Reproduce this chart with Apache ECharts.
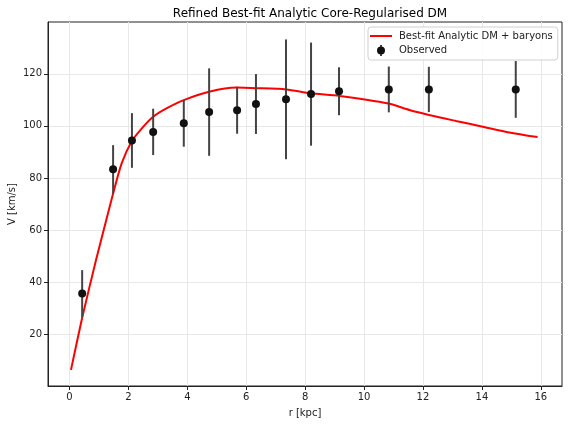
<!DOCTYPE html>
<html>
<head>
<meta charset="utf-8">
<script src="https://cdn.jsdelivr.net/npm/echarts@6/dist/echarts.min.js"></script>
<style>
    html, body { margin: 0; padding: 0; background: #fff; }
    #chart { width: 568px; height: 424px; }
</style>
</head>
<body>
<div id="chart"></div>
<script>
// fitted curve
const rFit = [0.05, 0.43, 0.9, 1.15, 1.48, 1.77, 2.12, 2.5, 2.84, 3.29, 3.88, 4.74, 5.67, 6.35, 7.36, 8.18, 9.17, 10.83, 11.54, 12.2, 13.12, 14.03, 14.93, 15.89];
const vFit = [6.3, 26.3, 48.5, 59.5, 74, 85.6, 94.2, 99.6, 103.5, 106.7, 109.9, 113.1, 114.7, 114.5, 114.0, 112.5, 111.5, 108.6, 106.1, 104.2, 101.9, 99.7, 97.5, 95.7];

// observed rotation curve
const rObs = [0.43, 1.48, 2.12, 2.84, 3.88, 4.74, 5.69, 6.33, 7.35, 8.2, 9.15, 10.84, 12.2, 15.15];
const vObs = [35.6, 83.3, 94.4, 97.7, 101.0, 105.3, 106.0, 108.4, 110.2, 112.2, 113.3, 114.0, 114.0, 114.0];
const eObs = [9.0, 9.3, 10.5, 8.9, 9.0, 16.8, 9.0, 11.5, 23.0, 19.8, 9.2, 8.8, 8.7, 10.9];

const xTicks = [0, 2, 4, 6, 8, 10, 12, 14, 16];
const yTicks = [20, 40, 60, 80, 100, 120];

const fitName = 'Best-fit Analytic DM + baryons';
const obsName = 'Observed';

const chart = echarts.init(document.getElementById('chart'));

const axisText = {fontSize: 10, color: '#222', fontFamily: 'DejaVu Sans'};
const gridLine = {show: true, lineStyle: {color: '#e8e8e8', width: 1}};

chart.setOption({
    animation: false,
    textStyle: {fontFamily: 'DejaVu Sans'},
    title: {
        text: 'Refined Best-fit Analytic Core-Regularised DM',
        left: 305,
        top: 3,
        textAlign: 'center',
        textStyle: {fontSize: 12, fontWeight: 'normal', color: '#000', fontFamily: 'DejaVu Sans'}
    },
    grid: {
        left: 48, right: 6, top: 22, bottom: 38,
        outerBoundsMode: 'none',
        containLabel: false,
        show: true, borderColor: '#222', borderWidth: 1, backgroundColor: 'transparent'
    },
    legend: {
        orient: 'vertical',
        left: 368,
        top: 27,
        padding: [4, 5, 4, 2],
        itemWidth: 22,
        itemHeight: 11,
        itemGap: 4,
        borderColor: '#d0d0d0',
        borderWidth: 1,
        borderRadius: 3,
        backgroundColor: 'rgba(255,255,255,0.85)',
        textStyle: {fontSize: 10, color: '#222', padding: [0, 0, 0, 2]},
        symbolKeepAspect: true,
        data: [
            {name: fitName, icon: 'path://M0,0H22V2H0Z', itemStyle: {color: '#ff0000'}},
            {name: obsName, icon: 'path://M4.2,0H5.8V11H4.2Z M5,1.5A4,4 0 1 1 4.99,1.5Z', itemStyle: {color: '#111'}}
        ]
    },
    xAxis: {
        type: 'value',
        min: -0.73,
        max: 16.72,
        name: 'r [kpc]',
        nameLocation: 'middle',
        nameGap: 22,
        nameMoveOverlap: false,
        nameTextStyle: axisText,
        axisLine: {show: true, onZero: false, lineStyle: {color: '#222', width: 1}},
        axisTick: {show: true, length: 4, customValues: xTicks, lineStyle: {color: '#222'}},
        axisLabel: {customValues: xTicks, margin: 6, ...axisText},
        splitLine: gridLine
    },
    yAxis: {
        type: 'value',
        min: 0.1,
        max: 139.9,
        name: 'V [km/s]',
        nameLocation: 'middle',
        nameGap: 31,
        nameMoveOverlap: false,
        nameTextStyle: axisText,
        axisLine: {show: true, onZero: false, lineStyle: {color: '#222', width: 1}},
        axisTick: {show: true, length: 4, customValues: yTicks, lineStyle: {color: '#222'}},
        axisLabel: {customValues: yTicks, margin: 6, ...axisText},
        splitLine: gridLine
    },
    series: [
        {
            name: fitName,
            type: 'line',
            data: rFit.map((r, i) => [r, vFit[i]]),
            symbol: 'none',
            smooth: 0.25,
            color: '#ff0000',
            lineStyle: {color: '#ff0000', width: 2},
            z: 2
        },
        {
            name: obsName,
            type: 'custom',
            data: rObs.map((r, i) => [r, vObs[i] - eObs[i], vObs[i] + eObs[i]]),
            encode: {x: 0, y: [1, 2]},
            renderItem: (params, api) => {
                const lo = api.coord([api.value(0), api.value(1)]);
                const hi = api.coord([api.value(0), api.value(2)]);
                return {
                    type: 'line',
                    shape: {x1: lo[0], y1: lo[1], x2: hi[0], y2: hi[1]},
                    style: {stroke: '#444', lineWidth: 2}
                };
            },
            z: 3
        },
        {
            name: obsName,
            type: 'scatter',
            data: rObs.map((r, i) => [r, vObs[i]]),
            symbol: 'circle',
            symbolSize: 8,
            itemStyle: {color: '#111', opacity: 1},
            z: 4
        }
    ]
});
</script>
</body>
</html>
